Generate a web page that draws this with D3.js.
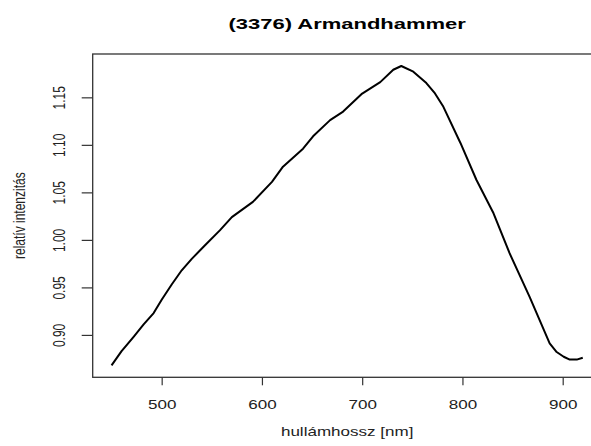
<!DOCTYPE html>
<html>
<head>
<meta charset="utf-8">
<script src="https://cdn.jsdelivr.net/npm/d3@7"></script>
<style>
  html, body { margin: 0; padding: 0; background: #fff; }
  svg { display: block; }
  text { font-family: "Liberation Sans", Arial, Helvetica, sans-serif; }
</style>
</head>
<body>
<div id="chart"></div>
<script>
// Spectrum: wavelength (nm) and relative intensity
const wavelength = [450, 460, 472, 482, 492, 500, 510, 520, 530, 542, 558, 570, 591, 610, 621, 641, 651,
                    668, 681, 700, 718, 731, 739, 751, 764, 772, 781, 798, 814, 831, 847, 867, 887, 894,
                    901, 907, 914, 920];
const intensity  = [0.868, 0.883, 0.898, 0.911, 0.923, 0.937, 0.953, 0.968, 0.980, 0.993, 1.010, 1.024, 1.040,
                    1.061, 1.077, 1.096, 1.109, 1.126, 1.135, 1.154, 1.166, 1.179, 1.183, 1.177, 1.165,
                    1.155, 1.140, 1.102, 1.063, 1.028, 0.986, 0.940, 0.891, 0.882, 0.877, 0.874, 0.874,
                    0.876];
const xTicks = [500, 600, 700, 800, 900];
const yTicks = [0.90, 0.95, 1.00, 1.05, 1.10, 1.15];
const yTickLabels = ["0.90", "0.95", "1.00", "1.05", "1.10", "1.15"];
const titleText = "(3376) Armandhammer";
const xTitle = "hullámhossz [nm]";
const yTitle = "relatív intenzitás";

const W = 591, H = 446;
const plot = { left: 92.7, right: 601.6, top: 54, bottom: 377.3 };
const stretch = 1.42;   // horizontal stretch of the text glyphs

const data = wavelength.map((w, i) => ({ w, v: intensity[i] }));

// axis ranges padded by 4% on each side
function padded(ext) { const d = (ext[1] - ext[0]) * 0.04; return [ext[0] - d, ext[1] + d]; }
const x = d3.scaleLinear().domain(padded(d3.extent(wavelength))).range([plot.left, plot.right]);
const y = d3.scaleLinear().domain(padded(d3.extent(intensity))).range([plot.bottom, plot.top]);

const svg = d3.select("#chart").append("svg").attr("width", W).attr("height", H);

// data line
svg.append("path")
  .datum(data)
  .attr("fill", "none")
  .attr("stroke", "#000")
  .attr("stroke-width", 2)
  .attr("stroke-linejoin", "round")
  .attr("d", d3.line().x(d => x(d.w)).y(d => y(d.v)));

// plot frame
svg.append("rect")
  .attr("x", plot.left).attr("y", plot.top)
  .attr("width", plot.right - plot.left).attr("height", plot.bottom - plot.top)
  .attr("fill", "none").attr("stroke", "#333").attr("stroke-width", 1.3);

// bottom axis
const gx = svg.append("g")
  .attr("transform", `translate(0,${plot.bottom})`)
  .call(d3.axisBottom(x).tickValues(xTicks).tickSize(8).tickSizeOuter(0).tickFormat(d3.format("d")));
gx.select(".domain").remove();
gx.selectAll(".tick line").attr("stroke", "#333").attr("stroke-width", 1.2);
gx.selectAll(".tick text")
  .attr("y", 0).attr("dy", null)
  .attr("transform", `translate(0,32) scale(${stretch},1)`)
  .attr("font-size", 12).attr("fill", "#222")
  .attr("text-anchor", "middle");

// left axis
const gy = svg.append("g")
  .attr("transform", `translate(${plot.left},0)`)
  .call(d3.axisLeft(y).tickValues(yTicks).tickSize(11).tickSizeOuter(0)
    .tickFormat((d, i) => yTickLabels[i]));
gy.select(".domain").remove();
gy.selectAll(".tick line").attr("stroke", "#333").attr("stroke-width", 1.2);
gy.selectAll(".tick text")
  .attr("x", 0).attr("dy", null)
  .attr("transform", `translate(-27.5,0) scale(${stretch},1) rotate(-90)`)
  .attr("font-size", 12).attr("fill", "#222")
  .attr("text-anchor", "middle");

// titles
svg.append("text")
  .attr("transform", `translate(${(plot.left + plot.right) / 2},29) scale(1.42,1)`)
  .attr("text-anchor", "middle")
  .attr("font-size", 15.5).attr("font-weight", "bold").attr("fill", "#000")
  .text(titleText);

svg.append("text")
  .attr("transform", `translate(${(plot.left + plot.right) / 2},436) scale(${stretch},1)`)
  .attr("text-anchor", "middle")
  .attr("font-size", 12).attr("fill", "#222")
  .text(xTitle);

svg.append("text")
  .attr("transform", `translate(25,${(plot.top + plot.bottom) / 2}) scale(${stretch},1) rotate(-90)`)
  .attr("text-anchor", "middle")
  .attr("font-size", 12).attr("fill", "#222")
  .text(yTitle);
</script>
</body>
</html>
